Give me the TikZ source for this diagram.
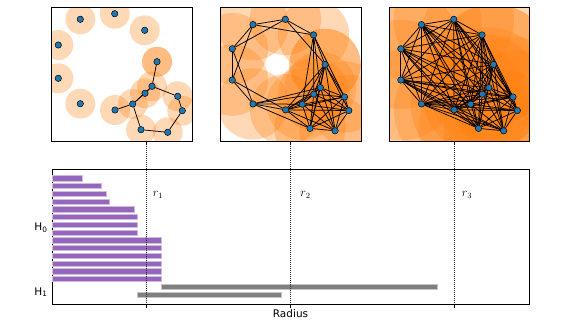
\documentclass[tikz,border=0pt]{standalone}
\usepackage{fontspec}
\setmainfont{DejaVu Sans}
\usetikzlibrary{positioning}
\definecolor{ballorange}{HTML}{FF7F0E}
\definecolor{ptblue}{HTML}{1F77B4}
\definecolor{barpurple}{HTML}{9467BD}
\definecolor{bargray}{HTML}{7F7F7F}
\pgfdeclarelayer{disks}
\pgfdeclarelayer{links}
\pgfsetlayers{disks,links,main}
\newcommand{\cloud}{1/28.8/11.8, 2/63.2/6.2, 3/93.2/22.8, 4/6.8/37.5, 5/105.5/54.2,
  6/6.8/70.8, 7/100.5/78.8, 8/93.5/85.8, 9/126.2/88.8, 10/28.8/96.2,
  11/81.2/96.5, 12/63.5/102.5, 13/130.8/103.2, 14/89.5/122.2, 15/116.2/124.8}

\begin{document}
\begin{tikzpicture}[x=1pt,y=-1pt,
  panelbox/.style={draw=black,line width=0.8pt},
  ball/.style={fill=ballorange,fill opacity=0.3},
  pnt/.style={circle,draw=black,fill=ptblue,line width=0.5pt,inner sep=0pt,minimum size=6.4pt},
  link/.style={draw=black,line width=0.75pt},
  hzero/.style={fill=barpurple,draw=barpurple!45!white,line width=0.4pt},
  hone/.style={fill=bargray,draw=bargray!45!white,line width=0.4pt},
  rline/.style={draw=black!85,line width=0.9pt,dash pattern=on 1pt off 1pt},
  tickmark/.style={draw=black,line width=0.8pt},
  lbl/.style={font=\fontsize{10.5}{12}\selectfont},
  rlbl/.style={font=\fontsize{12}{14}\selectfont}
]
\useasboundingbox (0,0) rectangle (581,327);

\foreach \pan/\fx/\ox/\oy/\sc/\rad in {a/51.5/51.5/7.5/1/15, b/220.5/225.9/13.5/0.94/38, c/389/394.4/13.5/0.94/64} {
  \begin{pgfonlayer}{disks}
    \begin{scope}
      \clip (\fx,7.5) rectangle ++(140.5,134);
      \begin{scope}[shift={(\ox,\oy)},scale=\sc]
        \foreach \i/\x/\y in \cloud
          \fill[ball] (\x,\y) circle[radius=\rad];
        \fill[ball] (105.5,54.2) circle[radius=\rad];
      \end{scope}
    \end{scope}
  \end{pgfonlayer}
  \begin{scope}[shift={(\ox,\oy)},scale=\sc]
    \foreach \i/\x/\y in \cloud
      \node[pnt] (\pan\i) at (\x,\y) {};
    \pgfmathsetmacro{\thr}{2*\rad}
    \begin{pgfonlayer}{links}
      \foreach \i/\xa/\ya in \cloud {
        \foreach \j/\xb/\yb in \cloud {
          \ifnum\j>\i
            \pgfmathsetmacro{\dist}{veclen(\xb-\xa,\yb-\ya)}
            \ifdim\dist pt<\thr pt
              \draw[link] (\pan\i) -- (\pan\j);
            \fi
          \fi
        }
      }
    \end{pgfonlayer}
  \end{scope}
  \draw[panelbox] (\fx,7.5) rectangle ++(140.5,134);
}

\draw[panelbox] (52,169) rectangle (529,304);
\foreach \k/\e in {0/82.3, 1/101, 2/106, 3/109, 4/134, 5/137, 6/137, 7/137,
  8/160.7, 9/160.7, 10/160.7, 11/160.7, 12/160.7, 13/160.7}
  \draw[hzero] (52,{175.65+7.74*\k}) rectangle (\e,{180.95+7.74*\k});
\draw[hone] (160.7,284) rectangle (436.7,289.4);
\draw[hone] (137,291.7) rectangle (281,297.1);

\foreach \n/\rx/\tx in {1/146/158, 2/290/305.5, 3/454/467} {
  \coordinate (top\n) at (\rx,141.5);
  \coordinate (bot\n) at (\rx,304);
  \draw[rline] (top\n) -- (bot\n);
  \draw[tickmark] (top\n) -- ++(0,3.5);
  \draw[tickmark] (bot\n) -- ++(0,3.5);
  \node[rlbl] (rlab\n) at (\tx,195) {$r_\n$};
}

\node[lbl] (hzlab) at (41,228) {H\textsubscript{0}};
\node[lbl] (holab) at (41,292) {H\textsubscript{1}};
\node[lbl] (xlab) at (290.5,313.5) {Radius};
\end{tikzpicture}
\end{document}
